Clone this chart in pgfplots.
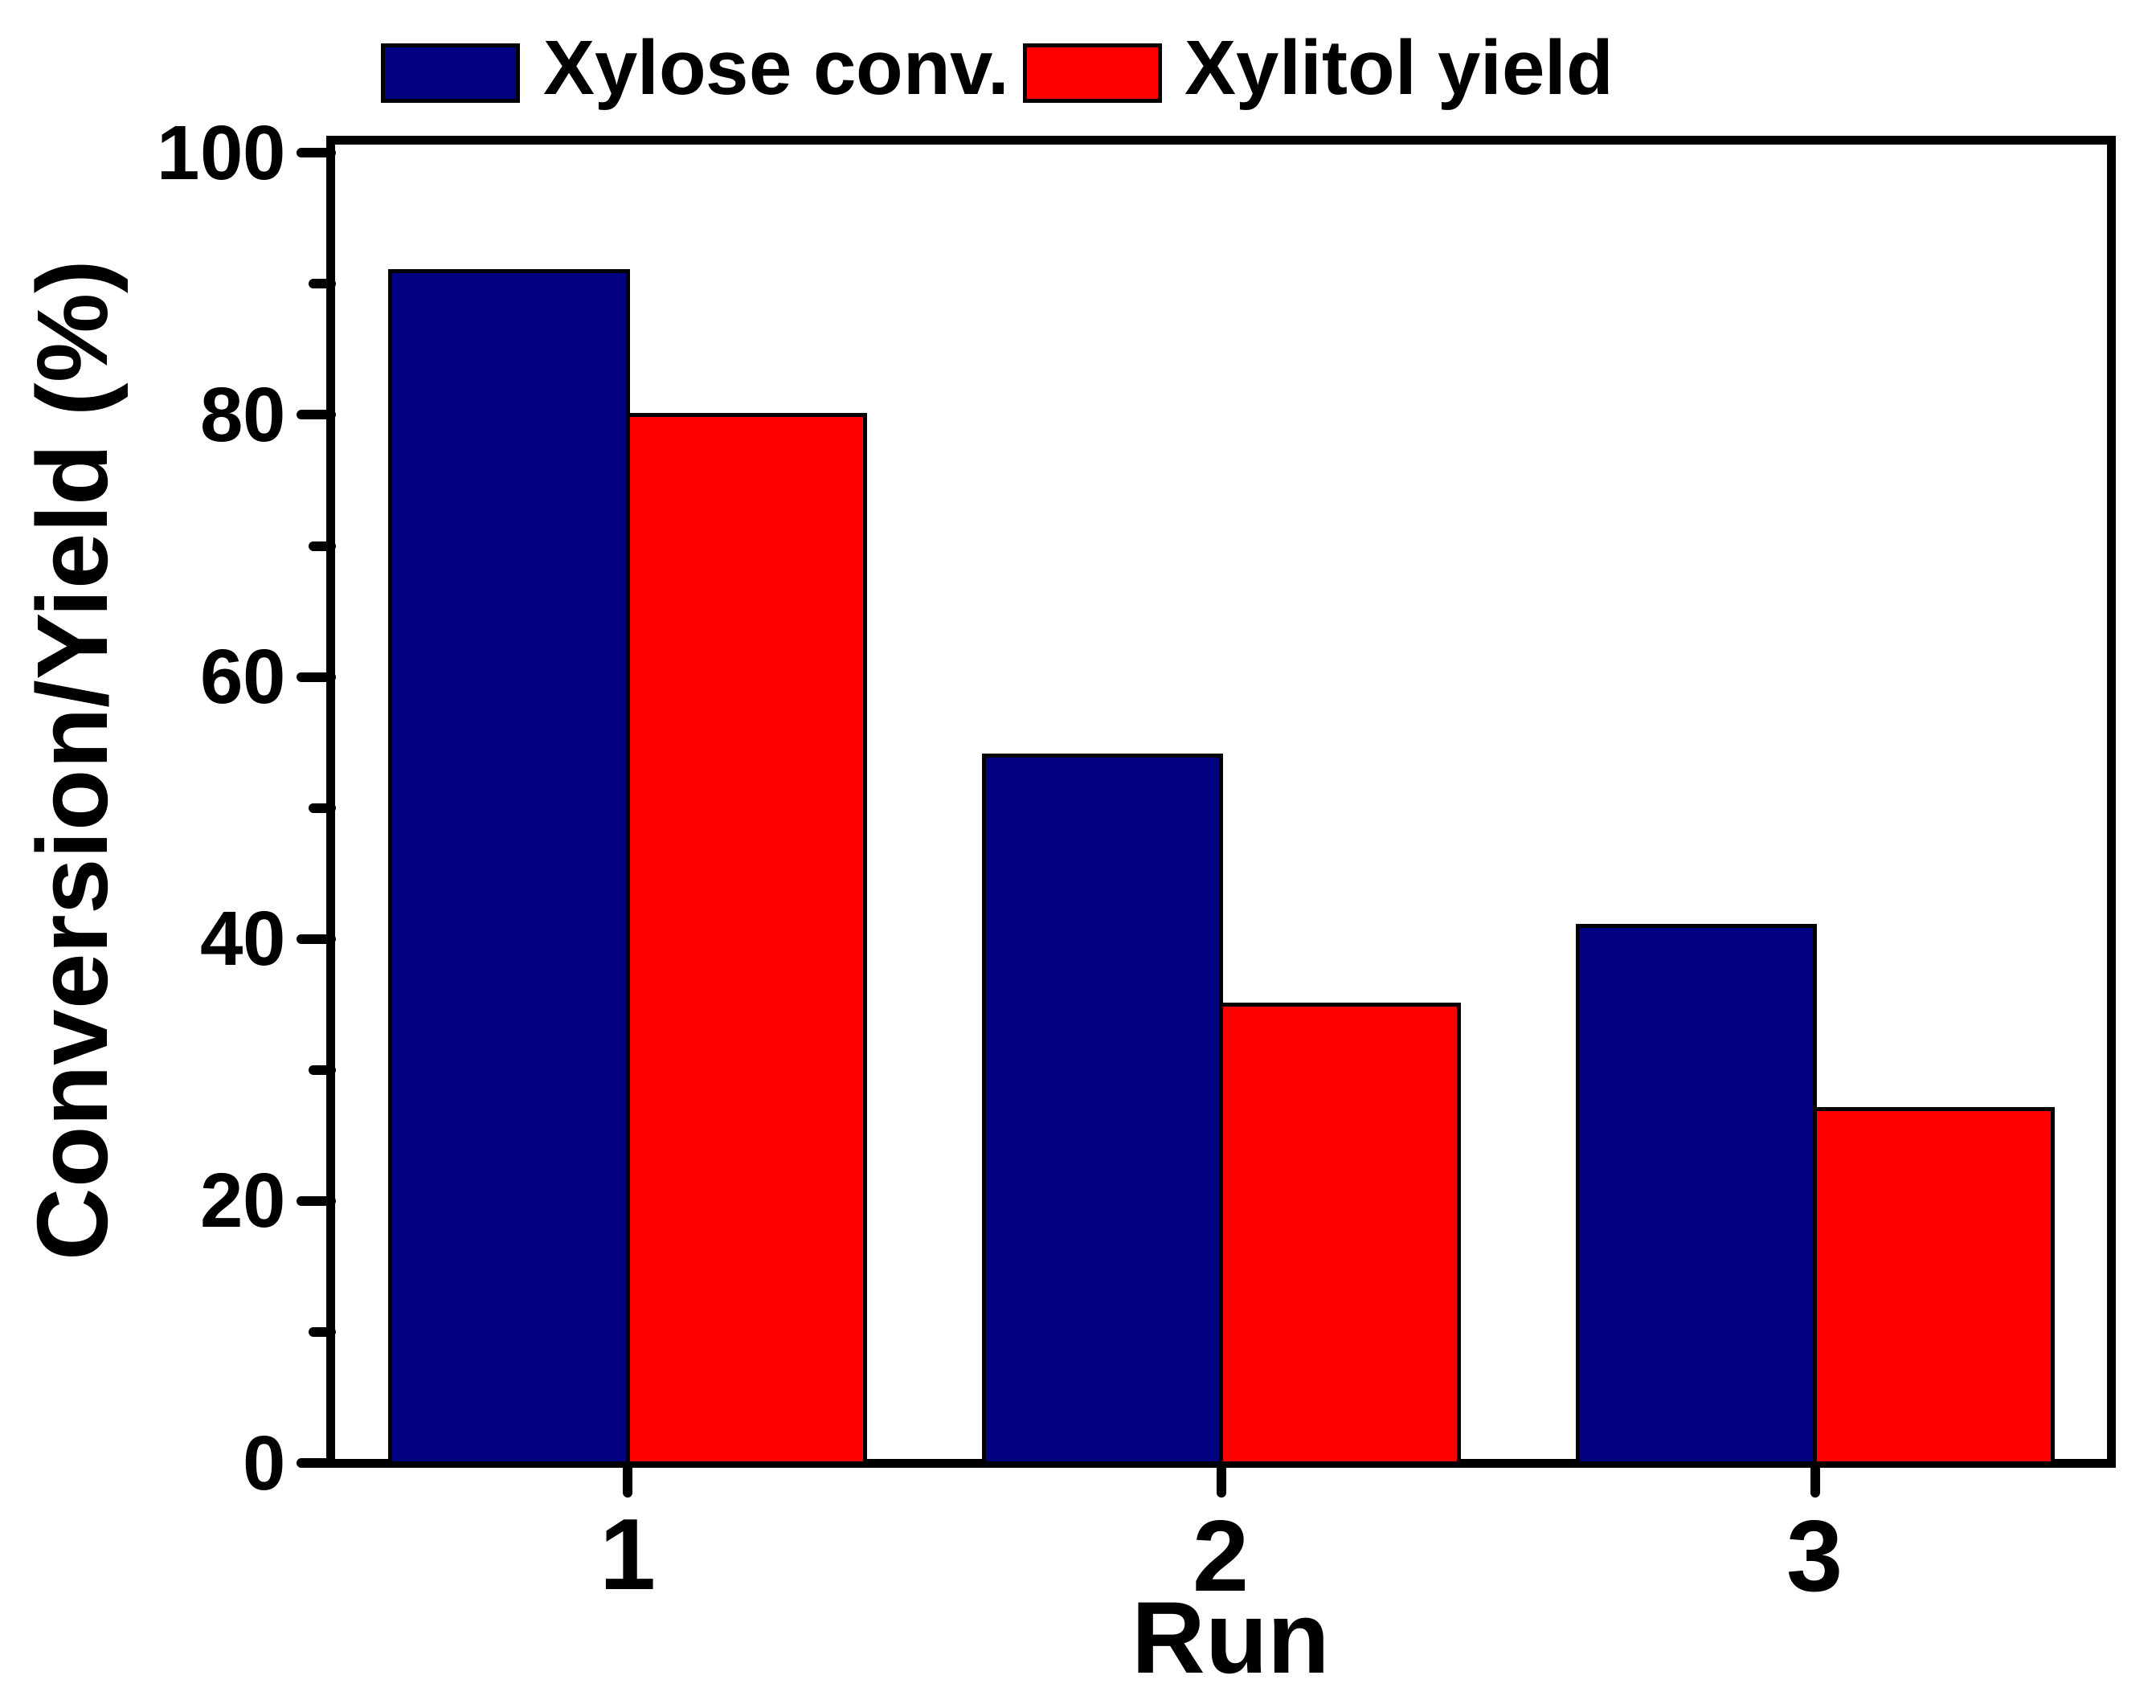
\documentclass[border=0pt]{standalone}
\usepackage{fontspec}
\setmainfont{Liberation Sans}
\usepackage{pgfplots}
\pgfplotsset{compat=1.18}
\definecolor{navyc}{HTML}{000080}
\definecolor{redc}{HTML}{FF0000}
\begin{document}
\begin{tikzpicture}
\begin{axis}[
  scale only axis, width=221.6pt, height=164.7pt,
  xmin=0.5, xmax=3.5, ymin=0, ymax=101,
  xtick={1,2,3}, ytick={0,20,...,100}, minor ytick={10,30,...,90},
  xtick pos=bottom, ytick pos=left, tick align=outside,
  major tick length=3.7pt, minor tick length=2.2pt,
  tick style={black, line width=1.2pt, line cap=round},
  axis line style={line width=1.1pt},
  /pgf/number format/assume math mode=true,
  yticklabel style={font=\bfseries\fontsize{9.6}{10}\selectfont, inner xsep=1.7pt, inner ysep=0pt},
  xticklabel style={font=\bfseries\fontsize{12.6}{13}\selectfont, inner ysep=0pt, yshift=-3.2pt},
  xlabel={Run}, ylabel={Conversion/Yield (\%)},
  xlabel style={font=\bfseries\fontsize{12.7}{13}\selectfont, inner sep=0pt, at={(axis description cs:0.5054,-0.1585)}, anchor=base},
  ylabel style={font=\bfseries\fontsize{12.5}{13}\selectfont, inner sep=0pt, at={(axis description cs:-0.1259,0.531)}, anchor=base},
  legend columns=2,
  legend style={at={(axis description cs:0.0271,1.0507)}, anchor=west, draw=none, fill=none, inner sep=0pt,
    font=\bfseries\fontsize{9.6}{10}\selectfont,
    nodes={inner xsep=2.9pt, inner ysep=0pt}},
  legend image code/.code={\draw[#1, line width=0.5pt] (0pt,-3.45pt) rectangle (16.8pt,3.45pt);},
]
\addplot[ybar, bar width=0.4, bar shift=-0.2, fill=navyc, draw=black, line width=0.5pt]
  coordinates {(1,91) (2,54) (3,41)};
\addlegendentry{Xylose conv.\kern-1.2pt}
\addplot[ybar, bar width=0.4, bar shift=0.2, fill=redc, draw=black, line width=0.5pt]
  coordinates {(1,80) (2,35) (3,27)};
\addlegendentry{Xylitol yield}
\end{axis}
\pgfresetboundingbox
\path[use as bounding box] ([shift={(-41.2pt,-30.4pt)}]current axis.south west) rectangle ([shift={(5.5pt,17.4pt)}]current axis.north east);
\end{tikzpicture}
\end{document}
